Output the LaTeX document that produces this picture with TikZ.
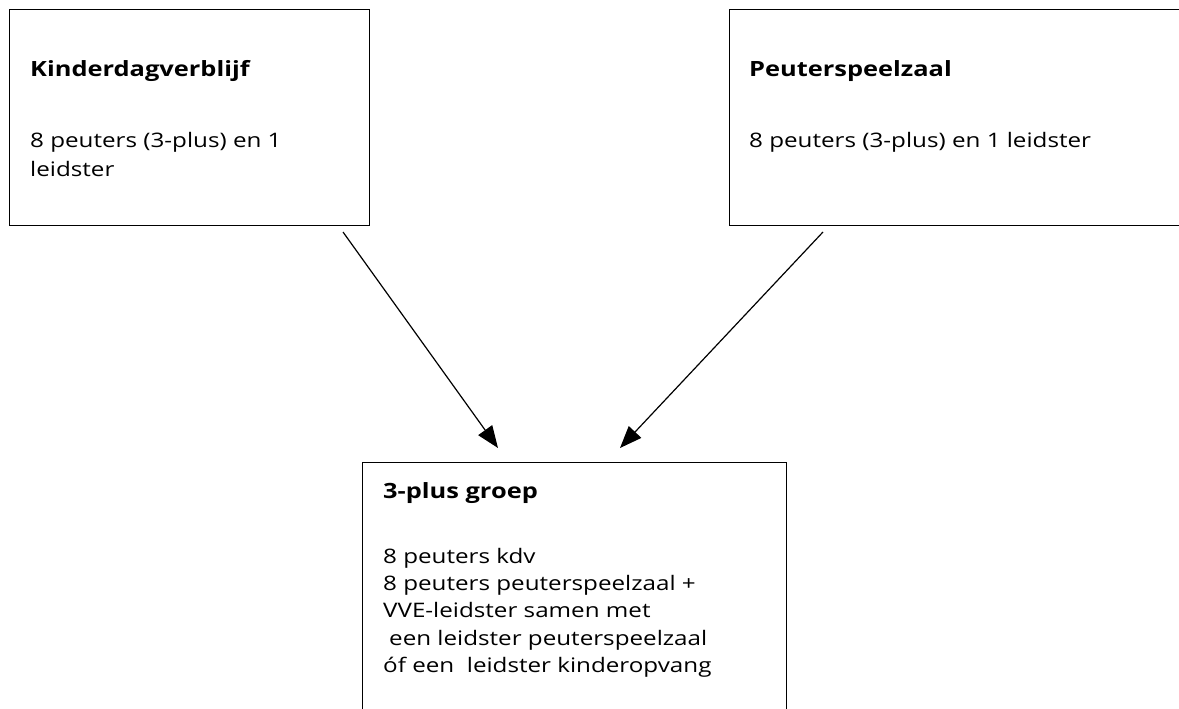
\documentclass[tikz,border=0pt]{standalone}
\usepackage{fontspec}
\newfontfamily\wfont[FakeStretch=1.21]{Open Sans}
\usetikzlibrary{arrows.meta}
\begin{document}
\begin{tikzpicture}[x=1pt,y=-1pt,
  box/.style={draw=black, line width=1.2pt, anchor=north west, inner sep=0pt},
  ttl/.style={anchor=base west, inner sep=0pt, font=\wfont\fontsize{21}{29}\selectfont\bfseries},
  body/.style={anchor=base west, inner sep=0pt, align=left, font=\wfont\fontsize{20}{29}\selectfont},
  conn/.style={line width=1.2pt, -{Triangle[length=22pt,width=17pt]}}]
\useasboundingbox (0,0) rectangle (1179,709);
\clip (0,0) rectangle (1179,709);
\node[box, minimum width=360pt, minimum height=216pt] (kdv) at (9,9) {};
\node[box, minimum width=470pt, minimum height=216pt] (psz) at (729,9) {};
\node[box, minimum width=424pt, minimum height=270pt] (grp) at (362,462) {};
\node[ttl] (kdvt) at (30,77) {Kinderdagverblijf};
\node[body] (kdvb) at (30,176.7) {8 peuters (3-plus) en 1\\leidster};
\node[ttl] (pszt) at (749,77) {Peuterspeelzaal};
\node[body] (pszb) at (749,147.7) {8 peuters (3-plus) en 1 leidster};
\node[ttl] (grpt) at (383,498.3) {3-plus groep};
\node[body, font=\wfont\fontsize{20}{27.25}\selectfont] (grpb) at (383,672.3) {8 peuters kdv\\8 peuters peuterspeelzaal +\\VVE-leidster samen met\\\hspace*{6pt}een leidster peuterspeelzaal\\óf een\ \ leidster kinderopvang};
\coordinate (s1) at (343,232);
\coordinate (e1) at (498,448);
\coordinate (s2) at (823,232);
\coordinate (e2) at (620,448);
\draw[conn] (s1) -- (e1);
\draw[conn] (s2) -- (e2);
\end{tikzpicture}
\end{document}
